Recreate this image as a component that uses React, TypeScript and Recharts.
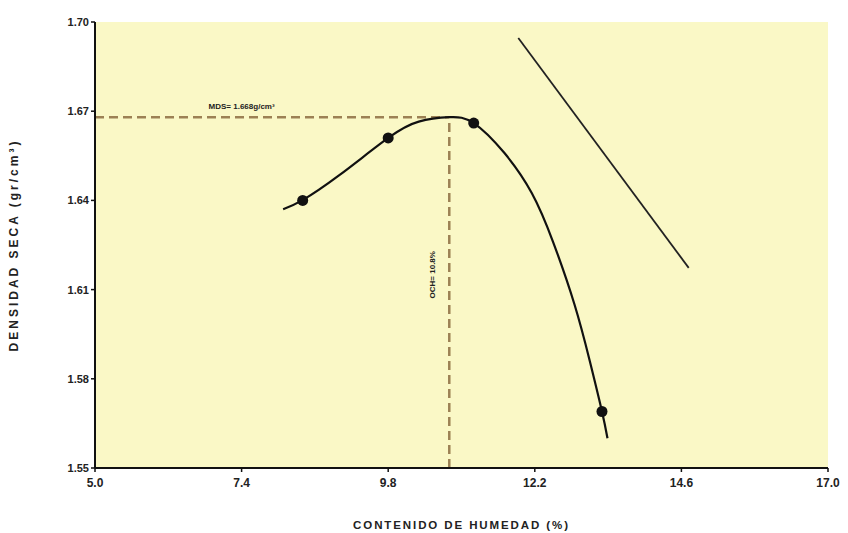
import React from "react";
import {
  ComposedChart,
  Line,
  Scatter,
  XAxis,
  YAxis,
  ReferenceArea,
  ReferenceLine,
  ReferenceDot,
} from "recharts";

// Compaction test results
const moistureTest = [8.4, 9.8, 11.2, 13.3];
const densityTest = [1.64, 1.661, 1.666, 1.569];

// Fitted compaction curve
const curveMoisture = [8.08, 8.39, 9.0, 9.8, 10.3, 10.8, 11.2, 11.7, 12.15, 12.5, 12.85, 13.1, 13.3, 13.39];
const curveDensity = [1.637, 1.64, 1.6485, 1.661, 1.6665, 1.668, 1.666, 1.656, 1.6425, 1.626, 1.605, 1.586, 1.569, 1.56];

// Zero air voids line
const zavMoisture = [11.93, 14.72];
const zavDensity = [1.6946, 1.6173];

// Optimum values
const maxDryDensity = 1.668;
const optimumMoisture = 10.8;

const xTicks = [5.0, 7.4, 9.8, 12.2, 14.6, 17.0];
const yTicks = [1.55, 1.58, 1.61, 1.64, 1.67, 1.7];

const testData = moistureTest.map((x, i) => ({ x, y: densityTest[i] }));
const curveData = curveMoisture.map((x, i) => ({ x, y: curveDensity[i] }));
const zavData = zavMoisture.map((x, i) => ({ x, y: zavDensity[i] }));

const FONT = "'Liberation Sans', Arial, sans-serif";
const DASH_COLOR = "#9c8154";

const MdsLabel = (props: any) => {
  const { viewBox } = props;
  const cx = viewBox.x + viewBox.width / 2;
  const cy = viewBox.y + viewBox.height / 2;
  return (
    <text x={cx} y={cy - 8} textAnchor="middle" fontFamily={FONT} fontSize={8} fontWeight="bold" fill="#222">
      MDS= 1.668g/cm³
    </text>
  );
};

const OchLabel = (props: any) => {
  const { viewBox } = props;
  const cx = viewBox.x + viewBox.width / 2 - 16;
  const cy = viewBox.y + viewBox.height / 2;
  return (
    <text
      x={cx}
      y={cy}
      textAnchor="middle"
      dominantBaseline="middle"
      transform={`rotate(-90 ${cx} ${cy})`}
      fontFamily={FONT}
      fontSize={8}
      fontWeight="bold"
      fill="#222"
    >
      OCH= 10.8%
    </text>
  );
};

const tickFmtX = (v: number) => v.toFixed(1);
const tickFmtY = (v: number) => v.toFixed(2);

export default function App() {
  return (
    <div style={{ position: "absolute", left: 0, top: 0, width: 848, height: 533, background: "#fff" }}>
      <ComposedChart
        width={848}
        height={533}
        margin={{ top: 22, right: 20, bottom: 30, left: 35 }}
      >
        <XAxis
          type="number"
          dataKey="x"
          domain={[5, 17]}
          ticks={xTicks}
          tickFormatter={tickFmtX}
          allowDataOverflow
          axisLine={{ stroke: "#111", strokeWidth: 2 }}
          tickLine={{ stroke: "#111", strokeWidth: 1.5 }}
          tickSize={4}
          tickMargin={6}
          height={35}
          tick={{ fontFamily: FONT, fontSize: 12, fontWeight: 600, fill: "#222" }}
          label={{
            value: "CONTENIDO  DE  HUMEDAD  (%)",
            position: "insideBottom",
            offset: -26,
            style: { fontFamily: FONT, fontSize: 11.5, fontWeight: "bold", fill: "#222", letterSpacing: 1.9 },
          }}
        />
        <YAxis
          type="number"
          dataKey="y"
          domain={[1.55, 1.7]}
          ticks={yTicks}
          tickFormatter={tickFmtY}
          allowDataOverflow
          width={60}
          axisLine={{ stroke: "#111", strokeWidth: 2 }}
          tickLine={{ stroke: "#111", strokeWidth: 1.5 }}
          tickSize={4}
          tick={{ fontFamily: FONT, fontSize: 11, fontWeight: 600, fill: "#222" }}
          label={{
            value: "DENSIDAD  SECA  (gr/cm³)",
            angle: -90,
            position: "insideLeft",
            offset: -21,
            style: { fontFamily: FONT, fontSize: 12, fontWeight: "bold", fill: "#222", textAnchor: "middle", letterSpacing: 3 },
          }}
        />
        <ReferenceArea x1={5} x2={17} y1={1.55} y2={1.7} fill="#faf8c6" fillOpacity={1} stroke="none" />
        <ReferenceLine
          segment={[{ x: 5, y: maxDryDensity }, { x: optimumMoisture, y: maxDryDensity }]}
          stroke={DASH_COLOR}
          strokeWidth={2.5}
          strokeDasharray="9 5"
        />
        <ReferenceLine
          segment={[{ x: optimumMoisture, y: 1.55 }, { x: optimumMoisture, y: maxDryDensity }]}
          stroke={DASH_COLOR}
          strokeWidth={2.5}
          strokeDasharray="9 5"
        />
        <ReferenceDot x={7.4} y={maxDryDensity} r={0} stroke="none" fill="none" label={<MdsLabel />} />
        <ReferenceDot x={optimumMoisture} y={1.615} r={0} stroke="none" fill="none" label={<OchLabel />} />
        <Line
          data={curveData}
          dataKey="y"
          type="natural"
          stroke="#111"
          strokeWidth={2.2}
          dot={false}
          activeDot={false}
          isAnimationActive={false}
        />
        <Line
          data={zavData}
          dataKey="y"
          type="linear"
          stroke="#222"
          strokeWidth={1.8}
          dot={false}
          activeDot={false}
          isAnimationActive={false}
        />
        <Scatter
          data={testData}
          dataKey="y"
          fill="#111"
          shape={(p: any) => <circle cx={p.cx} cy={p.cy} r={5.5} fill="#111" />}
          isAnimationActive={false}
        />
      </ComposedChart>
    </div>
  );
}
